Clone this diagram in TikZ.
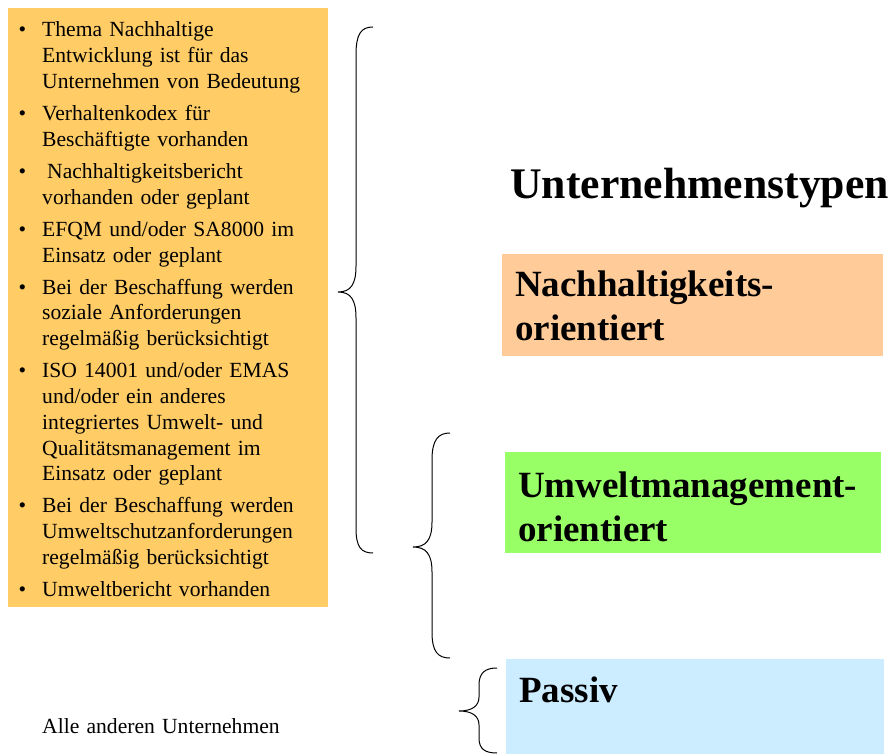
\documentclass[tikz,border=0pt]{standalone}
\usepackage{fontspec}
\setmainfont{Liberation Serif}
\usetikzlibrary{positioning, calc}
\definecolor{listColor}{RGB}{255,204,102}
\definecolor{nachColor}{RGB}{255,204,153}
\definecolor{umweltColor}{RGB}{153,255,102}
\definecolor{passivColor}{RGB}{204,236,255}

\begin{document}
\begin{tikzpicture}[
        x=1pt, y=-1pt,
        item/.style={anchor=base west, align=left, inner sep=0pt, text width=290pt, font=\fontsize{21.6}{25.8}\selectfont},
        typebox/.style={anchor=north west, inner sep=0pt},
        typelabel/.style={anchor=base west, align=left, inner sep=0pt, text width=360pt, font=\fontsize{37}{44}\selectfont\bfseries},
        brace/.style={draw=black, line width=1pt}
    ]
        \useasboundingbox (0,0) rectangle (891,754);

        % Kriterienliste
        \node[typebox, fill=listColor, minimum width=320pt, minimum height=599pt] (list) at (8,8) {};
        \node[item] (i1) at (42,37) {\llap{\textbullet\hspace{16pt}}Thema Nachhaltige\\Entwicklung ist für das\\Unternehmen von Bedeutung};
        \node[item] (i2) at (42,120.6) {\llap{\textbullet\hspace{16pt}}Verhaltenkodex für\\Beschäftigte vorhanden};
        \node[item] (i3) at (42,178.4) {\llap{\textbullet\hspace{16pt}}\hspace{5pt}Nachhaltigkeitsbericht\\vorhanden oder geplant};
        \node[item] (i4) at (42,236.2) {\llap{\textbullet\hspace{16pt}}EFQM und/oder SA8000 im\\Einsatz oder geplant};
        \node[item] (i5) at (42,294) {\llap{\textbullet\hspace{16pt}}Bei der Beschaffung werden\\soziale Anforderungen\\regelmäßig berücksichtigt};
        \node[item] (i6) at (42,377.6) {\llap{\textbullet\hspace{16pt}}ISO 14001 und/oder EMAS\\und/oder ein anderes\\integriertes Umwelt- und\\Qualitätsmanagement im\\Einsatz oder geplant};
        \node[item] (i7) at (42,512.8) {\llap{\textbullet\hspace{16pt}}Bei der Beschaffung werden\\Umweltschutzanforderungen\\regelmäßig berücksichtigt};
        \node[item] (i8) at (42,596.4) {\llap{\textbullet\hspace{16pt}}Umweltbericht vorhanden};
        \node[item] (rest) at (42,733) {Alle anderen Unternehmen};

        % Unternehmenstypen
        \node[anchor=base west, inner sep=0pt, font=\fontsize{43.7}{50}\selectfont\bfseries] (title) at (510,199) {Unternehmenstypen};
        \node[typebox, fill=nachColor, minimum width=381pt, minimum height=102pt] (nach) at (502,254) {};
        \node[typelabel] (nachText) at (515,296) {Nachhaltigkeits-\\orientiert};
        \node[typebox, fill=umweltColor, minimum width=376pt, minimum height=101pt] (umwelt) at (505,452) {};
        \node[typelabel] (umweltText) at (518,497) {Umweltmanagement-\\orientiert};
        \node[typebox, fill=passivColor, minimum width=378pt, minimum height=96pt] (passiv) at (506,659) {};
        \node[typelabel] (passivText) at (519,702) {Passiv};

        % Klammern
        \draw[brace] (373,27) .. controls (361,27) and (356,34) .. (356,55) -- (356,266) .. controls (356,284) and (351,292) .. (338,292) .. controls (351,292) and (356,300) .. (356,318) -- (356,528) .. controls (356,547) and (361,553) .. (373,553);
        \draw[brace] (450,433) .. controls (438,433) and (432,440) .. (432,460) -- (432,522) .. controls (432,540) and (426,547) .. (413,547) .. controls (426,547) and (432,554) .. (432,572) -- (432,632) .. controls (432,652) and (438,658) .. (450,658);
        \draw[brace] (497,668) .. controls (485,668) and (479,673) .. (479,685) -- (479,697) .. controls (479,706) and (472,711) .. (459,711) .. controls (472,711) and (479,716) .. (479,725) -- (479,738) .. controls (479,749) and (485,753) .. (497,753);
    \end{tikzpicture}
\end{document}
